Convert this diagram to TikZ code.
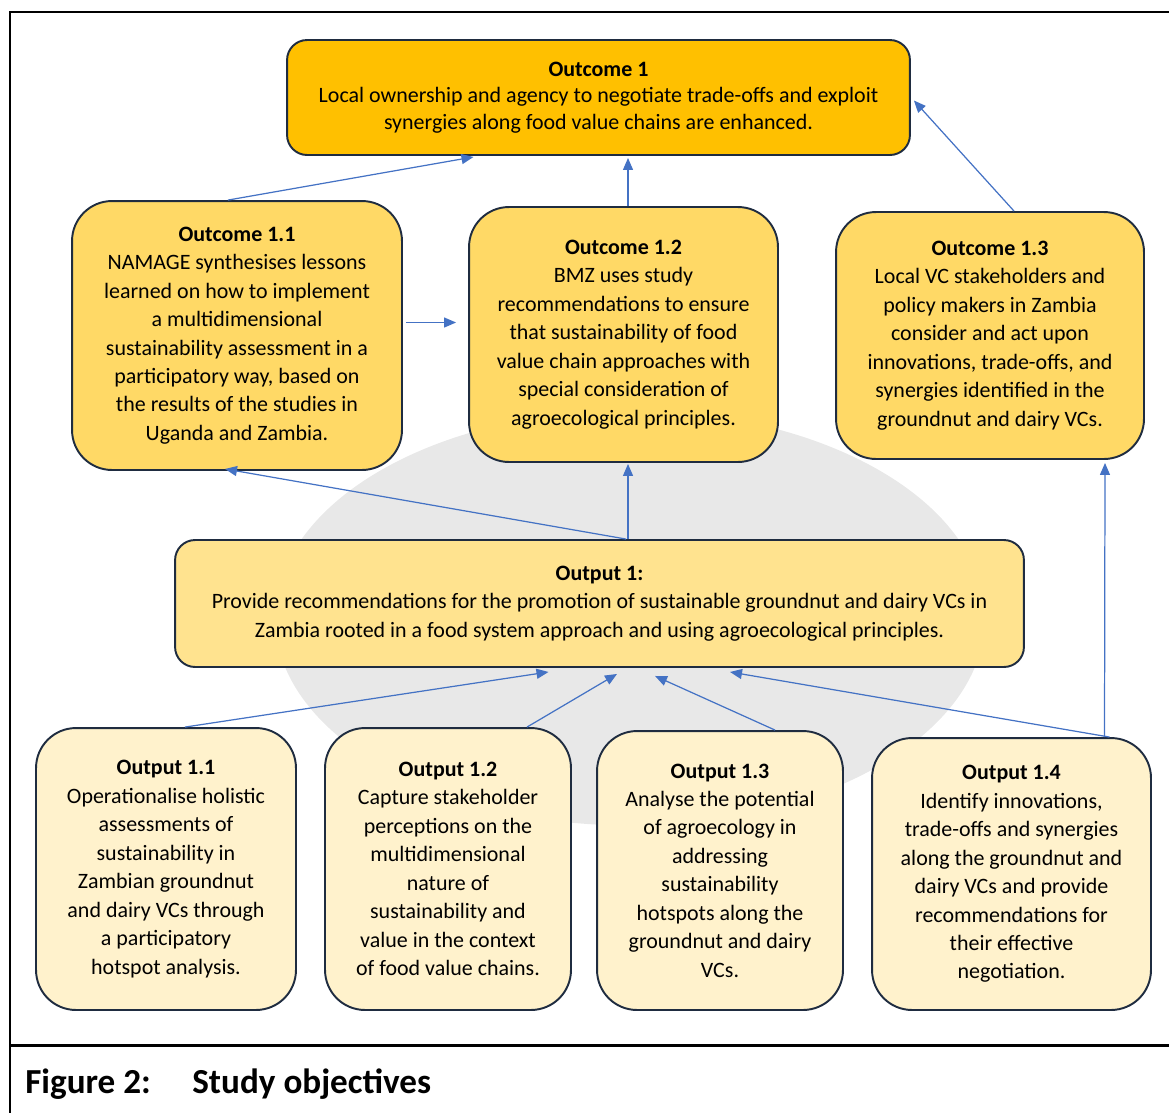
\documentclass[tikz,border=0pt]{standalone}
\usepackage{fontspec}
\setmainfont{Carlito}
\usetikzlibrary{arrows.meta}

\definecolor{goldA}{HTML}{FFC000}
\definecolor{goldB}{HTML}{FFD966}
\definecolor{goldC}{HTML}{FFE38F}
\definecolor{goldD}{HTML}{FFF2CC}
\definecolor{boxline}{HTML}{1F2C40}
\definecolor{linkblue}{HTML}{4472C4}
\definecolor{bggrey}{HTML}{E8E8E8}

\tikzset{
  goal/.style={draw=boxline, line width=1.1pt, align=center, inner sep=2pt,
    font=\fontsize{12.5}{16.2}\selectfont},
  outcome/.style={goal, fill=goldB, rounded corners=0.8cm},
  output/.style={goal, fill=goldD, rounded corners=0.8cm},
  link/.style={draw=linkblue, line width=0.7pt, -{Triangle[length=2.4mm,width=2mm]}},
}

\begin{document}
\begin{tikzpicture}[x=0.02cm, y=-0.02cm]
  \useasboundingbox (0,0) rectangle (1169,1113);

  % frame and caption rule
  \draw[line width=1.7pt] (1169,12) -- (10,12) -- (10,1113);
  \draw[line width=1.7pt] (10,1045) -- (1169,1045);

  % grey background
  \fill[bggrey] (630,618) ellipse [x radius=7.1cm, y radius=4.15cm];

  % outcomes
  \node[goal, fill=goldA, rounded corners=0.4cm, minimum width=12.46cm, minimum height=2.3cm,
    font=\fontsize{12.5}{15}\selectfont] (o1) at (598.5,97.5)
  {\textbf{Outcome 1}\\Local ownership and agency to negotiate trade-offs and exploit\\
   synergies along food value chains are enhanced.};

  \node[outcome, minimum width=6.6cm, minimum height=5.38cm] (o11) at (237,335.5)
  {\textbf{Outcome 1.1}\\NAMAGE synthesises lessons\\learned on how to implement\\
   a multidimensional\\sustainability assessment in a\\participatory way, based on\\
   the results of the studies in\\Uganda and Zambia.};

  \node[outcome, minimum width=6.18cm, minimum height=5.1cm] (o12) at (623.5,334.5)
  {\textbf{Outcome 1.2}\\BMZ uses study\\recommendations to ensure\\that sustainability of food\\
   value chain approaches with\\special consideration of\\agroecological principles.};

  \node[outcome, minimum width=6.16cm, minimum height=4.94cm] (o13) at (990,335.5)
  {\textbf{Outcome 1.3}\\Local VC stakeholders and\\policy makers in Zambia\\consider and act upon\\
   innovations, trade-offs, and\\synergies identified in the\\groundnut and dairy VCs.};

  % main output
  \node[goal, fill=goldC, rounded corners=0.4cm, minimum width=16.98cm, minimum height=2.54cm]
    (op1) at (599.5,603.5)
  {\textbf{Output 1:}\\Provide recommendations for the promotion of sustainable groundnut and dairy VCs in\\
   Zambia rooted in a food system approach and using agroecological principles.};

  % outputs
  \node[output, minimum width=5.2cm, minimum height=5.64cm] (p11) at (166,869)
  {\textbf{Output 1.1}\\Operationalise holistic\\assessments of\\sustainability in\\
   Zambian groundnut\\and dairy VCs through\\a participatory\\hotspot analysis.};

  \node[output, minimum width=4.92cm, minimum height=5.64cm] (p12) at (448,869)
  {\textbf{Output 1.2}\\Capture stakeholder\\perceptions on the\\multidimensional\\nature of\\
   sustainability and\\value in the context\\of food value chains.};

  \node[output, minimum width=4.92cm, minimum height=5.58cm] (p13) at (720,870.5)
  {\textbf{Output 1.3}\\Analyse the potential\\of agroecology in\\addressing\\sustainability\\
   hotspots along the\\groundnut and dairy\\VCs.};

  \node[output, minimum width=5.58cm, minimum height=5.44cm] (p14) at (1011.5,874)
  {\textbf{Output 1.4}\\Identify innovations,\\trade-offs and synergies\\along the groundnut and\\
   dairy VCs and provide\\recommendations for\\their effective\\negotiation.};

  % links between outcomes
  \draw[link] ([shift={(-9,0)}]o11.north) -- ([shift={(-125,1)}]o1.south);
  \draw[link] ([shift={(4.5,0)}]o12.north) -- ([shift={(29.5,2)}]o1.south);
  \draw[link] ([shift={(24,0)}]o13.north) -- ([shift={(3,3)}]o1.east);
  \draw[link] ([shift={(3,-13)}]o11.east) -- ([shift={(-12,-12)}]o12.west);

  % links from output 1
  \draw[link] ([shift={(28.5,0)}]op1.north) -- ([shift={(4.5,1)}]o12.south);
  \draw[link] ([shift={(26.5,0)}]op1.north) -- ([shift={(-12,-2)}]o11.south);

  \foreach \src/\sx/\tx/\ty in {p11/19/-51/4, p12/79/17.5/6, p13/55/55.5/8, p14/98/130.5/4}
  \draw[link] ([shift={(\sx,0)}]\src.north) -- ([shift={(\tx,\ty)}]op1.south);

  \draw[link] ([shift={(93,0)}]p14.north) -- ([shift={(93.5,3)}]p14.north |- o13.south);

  % caption
  \node[anchor=base west, inner sep=0pt, font=\fontsize{20}{24}\selectfont\bfseries]
    (capnum) at (25,1093) {Figure 2:};
  \node[anchor=base west, inner sep=0pt, font=\fontsize{20}{24}\selectfont\bfseries]
    (captext) at (192,1093) {Study objectives};
\end{tikzpicture}
\end{document}
